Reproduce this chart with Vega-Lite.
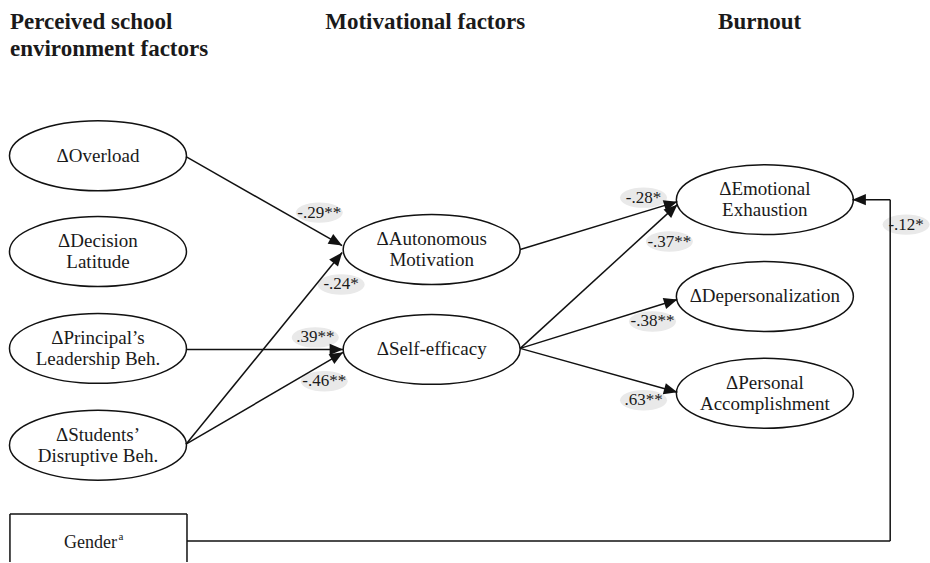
{
  "$schema": "https://vega.github.io/schema/vega-lite/v6.json",
  "width": 930,
  "height": 563,
  "autosize": {"type": "fit", "contains": "padding"},
  "padding": 0,
  "background": "white",
  "config": {"view": {"stroke": null}},
  "datasets": {
    "nodes": [
      {"node": "ΔOverload", "x": 98.5, "y": 156},
      {"node": "ΔDecision\nLatitude", "x": 98.5, "y": 252},
      {"node": "ΔPrincipal’s\nLeadership Beh.", "x": 98.5, "y": 349},
      {"node": "ΔStudents’\nDisruptive Beh.", "x": 98.5, "y": 446},
      {"node": "ΔAutonomous\nMotivation", "x": 434, "y": 250},
      {"node": "ΔSelf-efficacy", "x": 434, "y": 350},
      {"node": "ΔEmotional\nExhaustion", "x": 769, "y": 200},
      {"node": "ΔDepersonalization", "x": 769, "y": 297},
      {"node": "ΔPersonal\nAccomplishment", "x": 769, "y": 394}
    ],
    "edges": [
      {"from": "ΔOverload", "to": "ΔAutonomous Motivation", "x1": 187, "y1": 157, "x2": 344, "y2": 246, "coef": "-.29**", "lx": 321, "ly": 213},
      {"from": "ΔStudents’ Disruptive Beh.", "to": "ΔAutonomous Motivation", "x1": 187, "y1": 445, "x2": 344, "y2": 253, "coef": "-.24*", "lx": 343, "ly": 285},
      {"from": "ΔPrincipal’s Leadership Beh.", "to": "ΔSelf-efficacy", "x1": 187, "y1": 350, "x2": 345, "y2": 350, "coef": ".39**", "lx": 317, "ly": 338},
      {"from": "ΔStudents’ Disruptive Beh.", "to": "ΔSelf-efficacy", "x1": 187, "y1": 445, "x2": 345, "y2": 353, "coef": "-.46**", "lx": 326, "ly": 382},
      {"from": "ΔAutonomous Motivation", "to": "ΔEmotional Exhaustion", "x1": 523, "y1": 250, "x2": 681, "y2": 202, "coef": "-.28*", "lx": 647, "ly": 198},
      {"from": "ΔSelf-efficacy", "to": "ΔEmotional Exhaustion", "x1": 523, "y1": 349, "x2": 681, "y2": 205, "coef": "-.37**", "lx": 673, "ly": 242},
      {"from": "ΔSelf-efficacy", "to": "ΔDepersonalization", "x1": 523, "y1": 349, "x2": 681, "y2": 300, "coef": "-.38**", "lx": 656, "ly": 322},
      {"from": "ΔSelf-efficacy", "to": "ΔPersonal Accomplishment", "x1": 523, "y1": 349, "x2": 681, "y2": 393, "coef": ".63**", "lx": 647, "ly": 401},
      {"from": "Gender", "to": "ΔEmotional Exhaustion", "x1": 895, "y1": 200, "x2": 857, "y2": 200, "coef": "-.12*", "lx": 911, "ly": 225}
    ],
    "segments": [
      {"part": "gender path", "x1": 188, "y1": 542, "x2": 895, "y2": 542},
      {"part": "gender path", "x1": 895, "y1": 542, "x2": 895, "y2": 200},
      {"part": "gender box", "x1": 10, "y1": 515, "x2": 188, "y2": 515},
      {"part": "gender box", "x1": 10, "y1": 515, "x2": 10, "y2": 563},
      {"part": "gender box", "x1": 188, "y1": 515, "x2": 188, "y2": 563}
    ],
    "headers": [
      {"header": "Perceived school\nenvironment factors", "x": 10, "y": 29},
      {"header": "Motivational factors", "x": 327, "y": 29},
      {"header": "Burnout", "x": 722, "y": 29}
    ],
    "covariates": [
      {"name": "Gender", "sup": "a", "x": 91, "y": 549}
    ]
  },
  "layer": [
    {
      "data": {"name": "edges"},
      "mark": {"type": "point", "shape": "M-1,0C-1,-0.24 -0.552,-0.435 0,-0.435C0.552,-0.435 1,-0.24 1,0C1,0.24 0.552,0.435 0,0.435C-0.552,0.435 -1,0.24 -1,0Z", "filled": true, "color": "#e9e9e9", "opacity": 1, "size": 2209, "strokeWidth": 0},
      "encoding": {
        "x": {"field": "lx", "type": "quantitative", "scale": {"domain": [0, 930], "nice": false, "zero": false}, "axis": null},
        "y": {"field": "ly", "type": "quantitative", "scale": {"domain": [0, 563], "nice": false, "zero": false, "reverse": true}, "axis": null}
      }
    },
    {
      "data": {"name": "nodes"},
      "mark": {"type": "point", "shape": "M-1,0C-1,-0.218 -0.552,-0.395 0,-0.395C0.552,-0.395 1,-0.218 1,0C1,0.218 0.552,0.395 0,0.395C-0.552,0.395 -1,0.218 -1,0Z", "filled": false, "fill": "white", "fillOpacity": 1, "stroke": "#111111", "strokeWidth": 1.5, "opacity": 1, "size": 31329},
      "encoding": {
        "x": {"field": "x", "type": "quantitative", "scale": {"domain": [0, 930], "nice": false, "zero": false}, "axis": null},
        "y": {"field": "y", "type": "quantitative", "scale": {"domain": [0, 563], "nice": false, "zero": false, "reverse": true}, "axis": null}
      }
    },
    {
      "data": {"name": "edges"},
      "mark": {"type": "rule", "color": "#111111", "strokeWidth": 1.5},
      "encoding": {
        "x": {"field": "x1", "type": "quantitative", "scale": {"domain": [0, 930], "nice": false, "zero": false}, "axis": null},
        "y": {"field": "y1", "type": "quantitative", "scale": {"domain": [0, 563], "nice": false, "zero": false, "reverse": true}, "axis": null},
        "x2": {"field": "x2"},
        "y2": {"field": "y2"}
      }
    },
    {
      "data": {"name": "segments"},
      "mark": {"type": "rule", "color": "#111111", "strokeWidth": 1.5},
      "encoding": {
        "x": {"field": "x1", "type": "quantitative", "scale": {"domain": [0, 930], "nice": false, "zero": false}, "axis": null},
        "y": {"field": "y1", "type": "quantitative", "scale": {"domain": [0, 563], "nice": false, "zero": false, "reverse": true}, "axis": null},
        "x2": {"field": "x2"},
        "y2": {"field": "y2"}
      }
    },
    {
      "data": {"name": "edges"},
      "transform": [{"calculate": "atan2(datum.y2 - datum.y1, datum.x2 - datum.x1) * 180 / PI", "as": "heading"}],
      "mark": {"type": "point", "shape": "M0,0L-1,-0.42L-1,0.42Z", "filled": true, "color": "#111111", "opacity": 1, "size": 729, "strokeWidth": 0},
      "encoding": {
        "x": {"field": "x2", "type": "quantitative", "scale": {"domain": [0, 930], "nice": false, "zero": false}, "axis": null},
        "y": {"field": "y2", "type": "quantitative", "scale": {"domain": [0, 563], "nice": false, "zero": false, "reverse": true}, "axis": null},
        "angle": {"field": "heading", "type": "quantitative", "scale": null}
      }
    },
    {
      "data": {"name": "nodes"},
      "transform": [{"filter": "indexof(datum.node, '\\n') < 0"}],
      "mark": {"type": "text", "font": "Liberation Serif", "fontSize": 19, "align": "center", "baseline": "middle", "color": "#1a1a1a"},
      "encoding": {
        "x": {"field": "x", "type": "quantitative", "scale": {"domain": [0, 930], "nice": false, "zero": false}, "axis": null},
        "y": {"field": "y", "type": "quantitative", "scale": {"domain": [0, 563], "nice": false, "zero": false, "reverse": true}, "axis": null},
        "text": {"field": "node"}
      }
    },
    {
      "data": {"name": "nodes"},
      "transform": [{"filter": "indexof(datum.node, '\\n') >= 0"}],
      "mark": {"type": "text", "font": "Liberation Serif", "fontSize": 19, "lineHeight": 21, "lineBreak": "\n", "align": "center", "baseline": "middle", "dy": -10.5, "color": "#1a1a1a"},
      "encoding": {
        "x": {"field": "x", "type": "quantitative", "scale": {"domain": [0, 930], "nice": false, "zero": false}, "axis": null},
        "y": {"field": "y", "type": "quantitative", "scale": {"domain": [0, 563], "nice": false, "zero": false, "reverse": true}, "axis": null},
        "text": {"field": "node"}
      }
    },
    {
      "data": {"name": "edges"},
      "mark": {"type": "text", "font": "Liberation Serif", "fontSize": 17, "align": "center", "baseline": "middle", "color": "#1a1a1a"},
      "encoding": {
        "x": {"field": "lx", "type": "quantitative", "scale": {"domain": [0, 930], "nice": false, "zero": false}, "axis": null},
        "y": {"field": "ly", "type": "quantitative", "scale": {"domain": [0, 563], "nice": false, "zero": false, "reverse": true}, "axis": null},
        "text": {"field": "coef"}
      }
    },
    {
      "data": {"name": "headers"},
      "mark": {"type": "text", "font": "Liberation Serif", "fontSize": 23, "fontWeight": "bold", "lineHeight": 27, "lineBreak": "\n", "align": "left", "baseline": "alphabetic", "color": "#1a1a1a"},
      "encoding": {
        "x": {"field": "x", "type": "quantitative", "scale": {"domain": [0, 930], "nice": false, "zero": false}, "axis": null},
        "y": {"field": "y", "type": "quantitative", "scale": {"domain": [0, 563], "nice": false, "zero": false, "reverse": true}, "axis": null},
        "text": {"field": "header"}
      }
    },
    {
      "data": {"name": "covariates"},
      "mark": {"type": "text", "font": "Liberation Serif", "fontSize": 18, "align": "center", "baseline": "alphabetic", "color": "#1a1a1a"},
      "encoding": {
        "x": {"field": "x", "type": "quantitative", "scale": {"domain": [0, 930], "nice": false, "zero": false}, "axis": null},
        "y": {"field": "y", "type": "quantitative", "scale": {"domain": [0, 563], "nice": false, "zero": false, "reverse": true}, "axis": null},
        "text": {"field": "name"}
      }
    },
    {
      "data": {"name": "covariates"},
      "mark": {"type": "text", "font": "Liberation Serif", "fontSize": 11, "align": "left", "baseline": "alphabetic", "dx": 28, "dy": -8, "color": "#1a1a1a"},
      "encoding": {
        "x": {"field": "x", "type": "quantitative", "scale": {"domain": [0, 930], "nice": false, "zero": false}, "axis": null},
        "y": {"field": "y", "type": "quantitative", "scale": {"domain": [0, 563], "nice": false, "zero": false, "reverse": true}, "axis": null},
        "text": {"field": "sup"}
      }
    }
  ]
}
